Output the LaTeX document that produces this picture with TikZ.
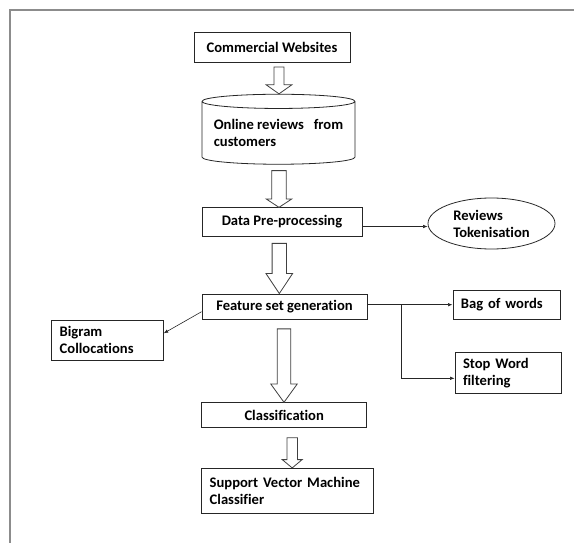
\documentclass[tikz,border=0pt]{standalone}
\usepackage{fontspec}
\setmainfont{Carlito}[Ligatures=CommonOff]
\usetikzlibrary{shapes.geometric,arrows.meta,calc}

\tikzset{
  box/.style={draw=black!85, line width=0.8pt, rectangle, inner sep=0pt,
    align=center, font=\bfseries\fontsize{14.6}{17}\selectfont},
  leftbox/.style={box, align=left, inner xsep=8pt},
  cyl/.style={box, cylinder, shape border rotate=90, aspect=0.11, align=left},
  oval/.style={box, ellipse, align=left},
  conn/.style={draw=black!85, line width=0.6pt, -{Latex[length=4.5pt,width=3.5pt]}},
  fat/.style={draw=black!75, line width=0.8pt, fill=white}
}

% hollow block arrow: from, to, x shift, gap, head length, shaft half, head half
\newcommand{\fatarrow}[7]{%
  \draw[fat] let \p1=(#1.south), \p2=(#2.north) in
    ({\x1+(#3-#6)*1pt},{\y1-#4*1pt}) -- ({\x1+(#3-#6)*1pt},{\y2+#5*1pt})
    -- ({\x1+(#3-#7)*1pt},{\y2+#5*1pt}) -- ({\x1+#3*1pt},\y2)
    -- ({\x1+(#3+#7)*1pt},{\y2+#5*1pt}) -- ({\x1+(#3+#6)*1pt},{\y2+#5*1pt})
    -- ({\x1+(#3+#6)*1pt},{\y1-#4*1pt}) -- cycle;}

\begin{document}
\begin{tikzpicture}[x=1pt,y=-1pt]
  \useasboundingbox (0,0) rectangle (574,543);

  % frame
  \draw[black!45, line width=1.5pt] (10,543) -- (10,10) -- (574,10);

  % main column
  \node[box, minimum width=156pt, minimum height=30pt] (web) at (272,47) {Commercial Websites};
  \node[cyl, minimum width=153pt, minimum height=70pt] (reviews) at (278.5,133) {Online reviews~~~from\\customers};
  \node[box, minimum width=160pt, minimum height=28.5pt] (prep) at (282,222) {Data Pre-processing};
  \node[box, minimum width=165pt, minimum height=25.5pt] (feat) at (284.5,306.7) {Feature set generation};
  \node[box, minimum width=165pt, minimum height=25pt] (classif) at (284.2,415.2) {Classification};
  \node[leftbox, text width=155.6pt, minimum height=45pt] (svm) at (287.5,490.8) {Support Vector Machine\\Classifier};

  % side nodes
  \node[oval, minimum width=127pt, minimum height=51pt] (tok) at (491.5,223.5) {Reviews\\Tokenisation};
  \node[leftbox, text width=91pt, minimum height=29pt] (bag) at (506.4,304.7) {Bag of words};
  \node[leftbox, text width=90pt, minimum height=40.6pt] (stopw) at (508,373) {Stop Word\\filtering};
  \node[leftbox, text width=95.6pt, minimum height=40pt] (bigram) at (107.5,340) {Bigram\\Collocations};

  % block arrows
  \fatarrow{web}{reviews}{7}{4.7}{9}{5}{12.8}
  \fatarrow{reviews}{prep}{0.5}{6}{8.4}{7.2}{12.8}
  \fatarrow{prep}{feat}{-2.7}{6.7}{20}{7.2}{13.3}
  \fatarrow{feat}{classif}{-0.5}{9}{18.4}{6.7}{13.3}
  \fatarrow{classif}{svm}{8}{9.6}{8.3}{5.3}{10}

  % thin connectors
  \draw[conn] ([yshift=-4.5pt]prep.east) -- ([yshift=-3pt]tok.west);
  \draw[conn] (feat.east |- bag.west) -- (bag.west);
  \path (feat.east |- bag.west) -- (bag.west) coordinate[pos=0.4] (br);
  \draw[conn] (br) |- ([yshift=-5.3pt]stopw.west);
  \draw[conn] ([yshift=-5pt]feat.west) -- ([yshift=6.7pt]bigram.east);
\end{tikzpicture}
\end{document}
